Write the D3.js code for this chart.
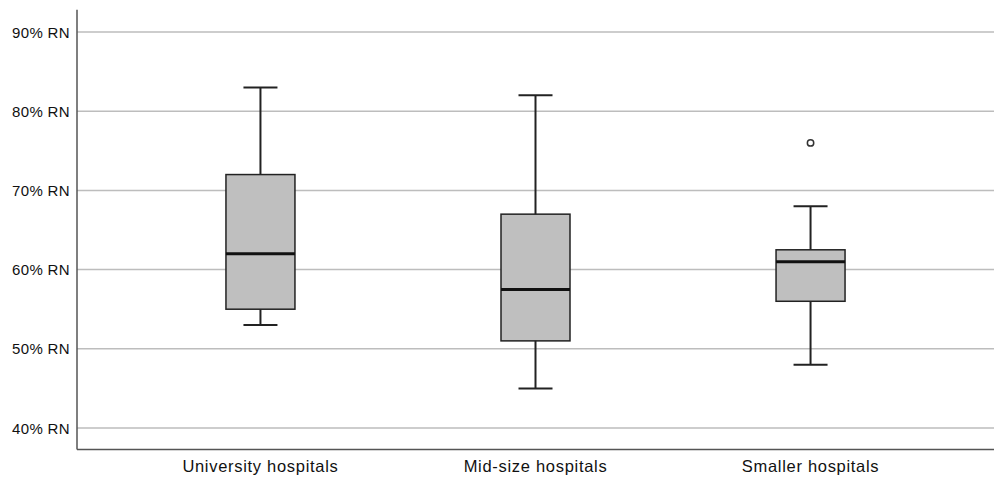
<!DOCTYPE html>
<html>
<head>
<meta charset="utf-8">
<script src="https://cdn.jsdelivr.net/npm/d3@7"></script>
<style>
  body { margin: 0; background: #fff; }
  svg text { font-family: "Liberation Sans", Arial, sans-serif; fill: #111; }
</style>
</head>
<body>
<div id="chart"></div>
<script>
var categories = ['University hospitals', 'Mid-size hospitals', 'Smaller hospitals'];
var whiskerLow = [53, 45, 48];
var q1 = [55, 51, 56];
var median = [62, 57.5, 61];
var q3 = [72, 67, 62.5];
var whiskerHigh = [83, 82, 68];
var outliers = [[], [], [76]];
var yTicks = [40, 50, 60, 70, 80, 90];

var width = 997,
    height = 477;

var svg = d3.select('#chart')
  .append('svg')
  .attr('width', width)
  .attr('height', height);

var left = 77, right = 994;

var x = d3.scalePoint()
  .domain(categories)
  .range([left, right])
  .padding(0.667);

var y = d3.scaleLinear()
  .domain([40, 90])
  .range([428, 32]);

var boxW = 69, capW = 34;

// gridlines
svg.append('g').selectAll('line')
  .data(yTicks)
  .enter()
  .append('line')
  .attr('x1', left)
  .attr('x2', right)
  .attr('y1', function(d) { return y(d) })
  .attr('y2', function(d) { return y(d) })
  .attr('stroke', '#bdbdbd')
  .attr('stroke-width', 1.5);

// y axis labels
svg.append('g').selectAll('text')
  .data(yTicks)
  .enter()
  .append('text')
  .attr('x', 70)
  .attr('y', function(d) { return y(d) })
  .attr('dy', '0.37em')
  .attr('text-anchor', 'end')
  .style('font-size', '15px')
  .style('letter-spacing', '0.35px')
  .text(function(d) { return d + '% RN' });

// axis frame
svg.append('line')
  .attr('x1', left).attr('x2', left)
  .attr('y1', y(92.8)).attr('y2', y(37.3))
  .attr('stroke', '#555').attr('stroke-width', 1.5);
svg.append('line')
  .attr('x1', left).attr('x2', right)
  .attr('y1', y(37.3)).attr('y2', y(37.3))
  .attr('stroke', '#555').attr('stroke-width', 1.5);

// x labels
svg.append('g').selectAll('text')
  .data(categories)
  .enter()
  .append('text')
  .attr('x', function(d) { return x(d) })
  .attr('y', 471.5)
  .attr('text-anchor', 'middle')
  .style('font-size', '16.5px')
  .style('letter-spacing', '0.7px')
  .text(function(d) { return d });

// boxes
var rows = categories.map(function(c, i) {
  return { cat: c, lo: whiskerLow[i], q1: q1[i], med: median[i], q3: q3[i], hi: whiskerHigh[i], out: outliers[i] };
});

var g = svg.append('g').selectAll('g')
  .data(rows)
  .enter()
  .append('g');

g.append('line')
  .attr('x1', function(d) { return x(d.cat) })
  .attr('x2', function(d) { return x(d.cat) })
  .attr('y1', function(d) { return y(d.hi) })
  .attr('y2', function(d) { return y(d.lo) })
  .attr('stroke', '#222').attr('stroke-width', 2);

g.selectAll('.cap')
  .data(function(d) { return [{ cat: d.cat, v: d.hi }, { cat: d.cat, v: d.lo }] })
  .enter()
  .append('line')
  .attr('class', 'cap')
  .attr('x1', function(d) { return x(d.cat) - capW / 2 })
  .attr('x2', function(d) { return x(d.cat) + capW / 2 })
  .attr('y1', function(d) { return y(d.v) })
  .attr('y2', function(d) { return y(d.v) })
  .attr('stroke', '#222').attr('stroke-width', 2);

g.append('rect')
  .attr('x', function(d) { return x(d.cat) - boxW / 2 })
  .attr('width', boxW)
  .attr('y', function(d) { return y(d.q3) })
  .attr('height', function(d) { return y(d.q1) - y(d.q3) })
  .attr('fill', '#bfbfbf')
  .attr('stroke', '#222').attr('stroke-width', 1.5);

g.append('line')
  .attr('x1', function(d) { return x(d.cat) - boxW / 2 })
  .attr('x2', function(d) { return x(d.cat) + boxW / 2 })
  .attr('y1', function(d) { return y(d.med) })
  .attr('y2', function(d) { return y(d.med) })
  .attr('stroke', '#111').attr('stroke-width', 3);

g.selectAll('.out')
  .data(function(d) { return d.out.map(function(v) { return { cat: d.cat, v: v } }) })
  .enter()
  .append('circle')
  .attr('class', 'out')
  .attr('cx', function(d) { return x(d.cat) })
  .attr('cy', function(d) { return y(d.v) })
  .attr('r', 3.2)
  .attr('fill', 'none')
  .attr('stroke', '#333').attr('stroke-width', 1.5);
</script>
</body>
</html>
